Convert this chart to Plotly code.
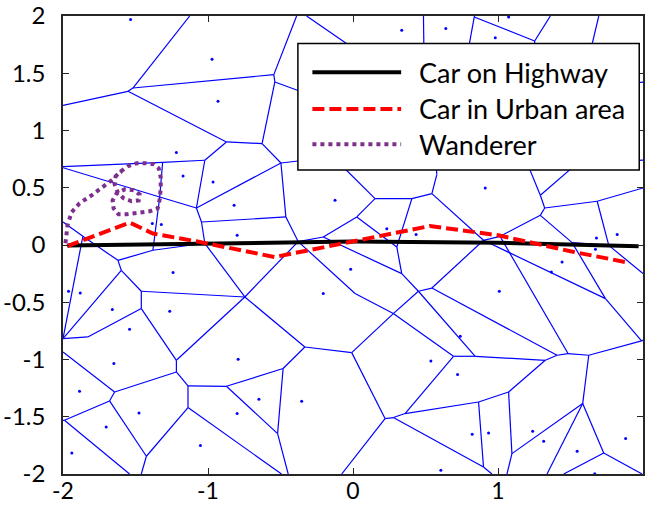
import plotly.graph_objects as go

# Voronoi cell vertices (axis units); points on the frame or beyond it end open edges
vor_vertices = {
    "t1": (-1.126, 2.0), "A": (-1.552, 1.342), "A2": (-1.518, 1.371), "l1": (-2.0, 1.220),
    "B": (-0.546, 1.488), "t2": (-0.389, 2.0), "B2": (-0.539, 1.424), "g1": (-0.20, 1.266),
    "t3": (-0.320, 2.0), "g2": (0.0, 1.72), "C": (-0.873, 0.900), "D": (-0.627, 0.886),
    "E": (-0.497, 0.716), "g3": (-0.2, 0.76), "G": (-1.022, 0.740), "l2": (-2.0, 0.685),
    "HH": (-1.313, 0.722), "H": (-1.333, 0.419), "l3": (-2.0, 0.675), "I": (-1.080, 0.323),
    "J": (-1.045, 0.201), "F": (-0.463, 0.245), "L": (-0.378, 0.03), "L2": (-0.205, 0.070),
    "R": (0.026, 0.245), "M": (0.152, 0.405), "g4": (-0.142, 0.775), "N": (0.406, 0.405),
    "O": (0.544, 0.449), "O2": (0.578, 0.615), "g5": (0.57, 0.75), "P": (0.900, 0.041),
    "Q": (0.302, -0.017), "S": (0.336, -0.250), "T": (0.451, -0.404), "U": (0.544, -0.376),
    "V": (0.278, -0.599), "Lm": (0.014, -0.424), "W": (1.292, 0.434), "g6": (1.19, 0.75),
    "g7": (1.58, 0.75), "X": (1.322, 0.323), "Y": (1.684, 0.382), "r1": (2.0, 0.498),
    "Z": (1.764, -0.003), "r2": (2.0, -0.250), "AA": (1.292, 0.259), "AB": (1.511, 0.021),
    "AC": (1.741, -0.468), "P2": (1.014, 0.076), "BB": (1.483, -0.948), "BC": (1.990, -0.838),
    "r3": (2.05, -0.80), "AZ": (1.407, -0.963), "AY": (1.326, -1.007), "BA": (1.626, -0.963),
    "BD": (1.584, -1.385), "BE": (1.729, -1.817), "b1": (1.453, -2.0), "b2": (1.994, -2.0),
    "b3": (1.338, -2.0), "BF": (1.096, -1.822), "b4": (1.062, -2.0), "BG": (1.073, -1.284),
    "AT": (0.866, -1.371), "AR": (0.900, -1.939), "b5": (0.958, -2.0), "AV": (0.278, -1.507),
    "AW": (0.359, -1.472), "AS": (0.693, -0.972), "AX": (0.843, -0.972), "AQ": (0.221, -1.516),
    "b6": (-0.078, -2.0), "AU": (-0.009, -0.940), "AM": (-0.332, -0.891), "AN": (-0.482, -1.079),
    "AO": (-0.873, -1.234), "AP": (-0.520, -1.647), "b7": (-0.447, -2.0), "b8": (-0.493, -2.0),
    "AH": (-1.138, -1.231), "AI": (-1.138, -1.420), "AJ": (-1.425, -1.845), "b9": (-1.460, -2.0),
    "AK": (-1.679, -1.362), "AG": (-1.644, -1.284), "AL": (-1.990, -1.531), "b10": (-1.541, -2.0),
    "l4": (-2.05, -1.53), "l5": (-2.0, -0.934), "AF": (-1.218, -1.109), "AE": (-1.218, -1.007),
    "AD": (-1.829, -0.803), "l6": (-2.0, -0.817), "BH": (-1.460, -0.555), "BI": (-1.460, -0.404),
    "BJ": (-1.598, -0.221), "BK": (-0.746, -0.454), "BL": (-1.022, 0.015), "BM": (-1.380, -0.046),
    "K": (-1.621, -0.134), "BN": (-1.863, 0.076), "l7": (-2.0, 0.201),
    "t4": (0.486, 2.0), "g8": (0.49, 1.6), "TS": (0.836, 1.991), "t5": (0.84, 2.05),
    "g9": (0.78, 1.6), "TV": (1.253, 1.782), "t6": (1.361, 2.0), "g10": (1.25, 1.6),
    "t7": (1.695, 2.0), "g11": (1.62, 1.6), "r4": (2.05, 1.43), "g12": (1.85, 1.40),
    "r5": (2.05, 0.745), "g13": (1.85, 0.73),
}

vor_edges = [
    ("t1", "A2"), ("l1", "A"), ("A", "A2"), ("A2", "B"), ("B", "t2"), ("B", "B2"), ("B2", "g1"),
    ("B2", "D"), ("t3", "g2"), ("A", "C"), ("C", "D"), ("C", "G"), ("D", "E"), ("E", "g3"),
    ("E", "I"), ("E", "F"), ("l2", "HH"), ("HH", "G"), ("HH", "H"), ("l3", "H"), ("H", "I"),
    ("G", "I"), ("I", "J"), ("J", "F"), ("F", "L"), ("L", "L2"), ("L", "BK"), ("L", "Lm"),
    ("Lm", "V"), ("L2", "R"), ("L2", "S"), ("R", "M"), ("R", "Q"), ("M", "g4"), ("M", "N"),
    ("N", "O"), ("N", "Q"), ("O", "O2"), ("O2", "g5"), ("O", "P"), ("Q", "S"), ("S", "T"),
    ("T", "U"), ("T", "V"), ("T", "AX"), ("U", "P"), ("U", "AZ"), ("V", "AU"), ("V", "AS"),
    ("P", "P2"), ("P2", "AA"), ("AA", "X"), ("X", "W"), ("W", "g6"), ("W", "g7"), ("X", "Y"),
    ("Y", "r1"), ("Y", "Z"), ("AA", "AB"), ("AB", "Z"), ("Z", "r2"), ("AB", "AC"), ("P", "AC"),
    ("P2", "BB"), ("AC", "BC"), ("BC", "r3"), ("BB", "AZ"), ("BB", "BA"), ("AZ", "AY"),
    ("AY", "AX"), ("AY", "BG"), ("BA", "BC"), ("BA", "BD"), ("BD", "BF"), ("BD", "BE"),
    ("BD", "b3"), ("BE", "b1"), ("BE", "b2"), ("BF", "b4"), ("BG", "BF"), ("BG", "AT"),
    ("AT", "AR"), ("AR", "b5"), ("AT", "AW"), ("AW", "AS"), ("AW", "AV"), ("AV", "AQ"),
    ("AV", "AR"), ("AS", "AX"), ("AQ", "AU"), ("AQ", "b6"), ("AU", "AM"), ("AM", "BK"),
    ("AM", "AN"), ("AN", "AO"), ("AN", "AP"), ("AO", "AP"), ("AO", "AH"), ("AP", "b7"),
    ("AH", "AF"), ("AH", "AI"), ("AI", "AJ"), ("AI", "b8"), ("AJ", "b9"), ("AJ", "AK"),
    ("AK", "AG"), ("AK", "AL"), ("AL", "b10"), ("AL", "l4"), ("AG", "l5"), ("AG", "AF"),
    ("AF", "AE"), ("AE", "BH"), ("AE", "BK"), ("BH", "AD"), ("AD", "l6"), ("BH", "BI"),
    ("BI", "BJ"), ("BI", "BK"), ("BJ", "K"), ("BJ", "l6"), ("K", "BM"), ("K", "BN"),
    ("BM", "BL"), ("BM", "H"), ("BL", "J"), ("BL", "BK"), ("BN", "l7"), ("BN", "l6"),
    ("t4", "g8"), ("TS", "t5"), ("TS", "g9"), ("TS", "TV"), ("TV", "t6"), ("TV", "g10"),
    ("t7", "g11"), ("g12", "r4"), ("g13", "r5"),
]

# Generator points
seed_x = [-1.534, -0.972, -0.931, -1.218, -1.172, -0.965, -0.820, -0.799, -1.384, -1.322,
          -1.241, -1.962, -1.881, -1.660, -1.264, -1.541, -1.649, -1.886, -1.476, -1.702,
          -1.939, -1.052, -0.792, -0.649, -0.799, -0.354, -0.205, -0.016, -0.124, 0.233,
          0.435, 0.912, 1.009, 0.740, 0.537, 0.721, 0.822, 0.935, 0.606, 1.239,
          1.315, 1.546, 1.880, 1.667, 1.679, 1.822, 1.672, 1.442, 1.368, 0.336,
          0.640, 0.981, 1.073]
seed_y = [1.969, 1.622, 1.255, 0.807, 0.603, 0.550, 0.347, 0.085, 0.187, 0.178,
          -0.241, -0.405, -0.419, -0.564, -0.579, -0.736, -1.036, -1.278, -1.467, -1.590,
          -1.817, -1.750, -0.998, -1.348, -1.472, -1.365, -0.424, -0.212, 0.390, 0.143,
          0.091, 0.498, -0.404, -0.798, -1.013, -1.132, -1.653, -1.642, -1.968, -1.627,
          -1.714, -1.801, -1.691, -1.997, 0.061, 0.091, -0.038, -0.148, -0.236, 1.875,
          1.890, 1.811, 1.991]

# Trajectories
highway_x = [-1.97, -1.0, 0.0, 1.0, 1.97]
highway_y = [-0.005, 0.015, 0.03, 0.02, -0.01]

urban_x = [-1.97, -1.54, -1.38, -1.08, -0.54, 0.53, 1.0, 1.5, 1.90]
urban_y = [-0.01, 0.196, 0.10, 0.032, -0.105, 0.166, 0.085, -0.055, -0.154]

wander_x = [-1.983, -1.969, -1.941, -1.886, -1.803, -1.727, -1.665, -1.610, -1.554, -1.492,
            -1.430, -1.375, -1.340, -1.326, -1.326, -1.333, -1.347, -1.402, -1.485, -1.561,
            -1.617, -1.651, -1.658, -1.630, -1.575, -1.513, -1.472, -1.478, -1.527, -1.582,
            -1.623, -1.644, -1.637, -1.596]
wander_y = [0.015, 0.172, 0.286, 0.364, 0.434, 0.504, 0.565, 0.635, 0.687, 0.714,
            0.714, 0.705, 0.670, 0.591, 0.495, 0.399, 0.320, 0.294, 0.277, 0.268,
            0.268, 0.320, 0.390, 0.451, 0.486, 0.478, 0.443, 0.390, 0.382, 0.408,
            0.460, 0.530, 0.600, 0.644]

series_names = ["Car on Highway", "Car in Urban area", "Wanderer"]
series_colors = ["#000000", "#FF0000", "#7E2F8E"]
series_dash = ["solid", "12px,5px", "4px,4px"]

tick_vals_x = [-2, -1, 0, 1, 2]
tick_vals_y = [-2, -1.5, -1, -0.5, 0, 0.5, 1, 1.5, 2]

FONT = "Lato, 'Open Sans', sans-serif"

vx, vy = [], []
for a, b in vor_edges:
    vx += [vor_vertices[a][0], vor_vertices[b][0], None]
    vy += [vor_vertices[a][1], vor_vertices[b][1], None]

fig = go.Figure()
fig.add_trace(go.Scatter(x=vx, y=vy, mode="lines", line=dict(color="#0000FF", width=1.2),
                         hoverinfo="skip", showlegend=False))
fig.add_trace(go.Scatter(x=seed_x, y=seed_y, mode="markers",
                         marker=dict(color="#0000FF", size=3), showlegend=False))
for name, xs, ys, col, dash in zip(series_names, [highway_x, urban_x, wander_x],
                                   [highway_y, urban_y, wander_y], series_colors, series_dash):
    fig.add_trace(go.Scatter(x=xs, y=ys, mode="lines", name=name,
                             line=dict(color=col, width=4, dash=dash), showlegend=False))

# Legend box drawn in paper coordinates
leg_x0, leg_x1, leg_y0, leg_y1 = 0.405, 0.9935, 0.664, 0.940
row_y = [0.877, 0.797, 0.720]
fig.add_shape(type="rect", xref="paper", yref="paper", x0=leg_x0, x1=leg_x1, y0=leg_y0, y1=leg_y1,
              line=dict(color="#000000", width=1.5), fillcolor="white", layer="above")
for name, col, dash, ry in zip(series_names, series_colors, series_dash, row_y):
    fig.add_shape(type="line", xref="paper", yref="paper", x0=0.430, x1=0.583, y0=ry, y1=ry,
                  line=dict(color=col, width=4, dash=dash), layer="above")
    fig.add_annotation(x=0.610, y=ry, xref="paper", yref="paper", text=name, showarrow=False,
                       xanchor="left", yanchor="middle", font=dict(family=FONT, size=27, color="#000000"))

axis_common = dict(range=[-2, 2], showgrid=False, zeroline=False, showline=True, mirror="ticks",
                   linecolor="#262626", linewidth=1.5, ticks="inside", ticklen=6, tickwidth=1,
                   tickcolor="#262626", automargin=False)
fig.update_xaxes(tickvals=tick_vals_x, ticktext=[f"{v:g}" for v in tick_vals_x],
                 ticklabelstandoff=-4, tickfont=dict(family=FONT, size=23, color="#000000"),
                 **axis_common)
fig.update_yaxes(tickvals=tick_vals_y, ticktext=[f"{v:g}" for v in tick_vals_y],
                 ticklabelstandoff=11, tickfont=dict(family=FONT, size=24, color="#000000"),
                 **axis_common)
fig.update_layout(width=649, height=505, margin=dict(l=63, r=6, t=16, b=31),
                  plot_bgcolor="white", paper_bgcolor="white", showlegend=False)

fig.write_html("out.html")
